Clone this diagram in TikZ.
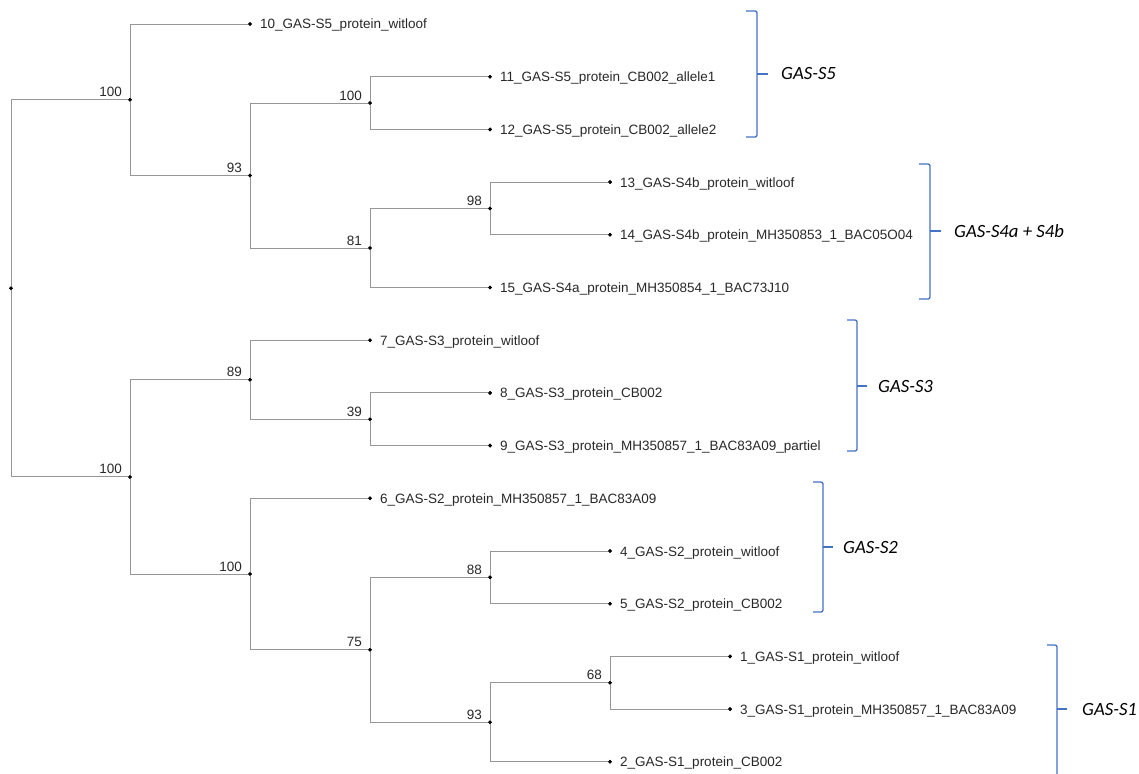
\documentclass[tikz,border=0pt]{standalone}
\usepackage{fontspec}
\setmainfont{Liberation Sans}
\newfontfamily\calfont{Carlito}
\definecolor{cladeblue}{RGB}{68,114,196}
\definecolor{branchgray}{RGB}{150,150,150}
\definecolor{txtgray}{RGB}{40,40,40}
\begin{document}
\begin{tikzpicture}[x=1pt,y=-1pt,
  br/.style={draw=branchgray, line width=0.9pt},
  dot/.style={circle, fill=black, inner sep=0pt, minimum size=3.8pt},
  lf/.style={anchor=base west, inner sep=0pt, font=\fontsize{13.5}{16}\selectfont, text=txtgray},
  bs/.style={anchor=base east, inner sep=0pt, font=\fontsize{13.5}{16}\selectfont, text=txtgray},
  clade/.style={draw=cladeblue, line width=1.3pt, rounded corners=2pt},
  cl/.style={anchor=base west, inner sep=0pt, font=\calfont\itshape\fontsize{18.7}{22}\selectfont, text=black}]
\useasboundingbox (0,0) rectangle (1139,773);

% internal nodes
\node[dot] (r)  at (11,288.3) {};
\node[dot] (a)  at (130,99.8) {};
\node[dot] (b)  at (130,476.9) {};
\node[dot] (a1) at (250,175.5) {};
\node[dot] (a2) at (370,103.05) {};
\node[dot] (a3) at (370,248) {};
\node[dot] (a4) at (490,208.45) {};
\node[dot] (b1) at (250,379.7) {};
\node[dot] (b2) at (370,419.25) {};
\node[dot] (b3) at (250,574.05) {};
\node[dot] (b4) at (370,649.8) {};
\node[dot] (b5) at (490,577.35) {};
\node[dot] (b6) at (490,722.3) {};
\node[dot] (b7) at (610,682.75) {};

% leaves
\node[dot] (l10) at (250,24) {};
\node[dot] (l11) at (490,76.7) {};
\node[dot] (l12) at (490,129.4) {};
\node[dot] (l13) at (610,182.1) {};
\node[dot] (l14) at (610,234.8) {};
\node[dot] (l15) at (490,287.5) {};
\node[dot] (l7)  at (370,340.2) {};
\node[dot] (l8)  at (490,392.9) {};
\node[dot] (l9)  at (490,445.6) {};
\node[dot] (l6)  at (370,498.3) {};
\node[dot] (l4)  at (610,551) {};
\node[dot] (l5)  at (610,603.7) {};
\node[dot] (l1)  at (730,656.4) {};
\node[dot] (l3)  at (730,709.1) {};
\node[dot] (l2)  at (610,761.8) {};

% branches
\draw[br] (r.center) |- (a.center);
\draw[br] (r.center) |- (b.center);
\draw[br] (a.center) |- (l10.center);
\draw[br] (a.center) |- (a1.center);
\draw[br] (a1.center) |- (a2.center);
\draw[br] (a1.center) |- (a3.center);
\draw[br] (a2.center) |- (l11.center);
\draw[br] (a2.center) |- (l12.center);
\draw[br] (a3.center) |- (a4.center);
\draw[br] (a3.center) |- (l15.center);
\draw[br] (a4.center) |- (l13.center);
\draw[br] (a4.center) |- (l14.center);
\draw[br] (b.center) |- (b1.center);
\draw[br] (b.center) |- (b3.center);
\draw[br] (b1.center) |- (l7.center);
\draw[br] (b1.center) |- (b2.center);
\draw[br] (b2.center) |- (l8.center);
\draw[br] (b2.center) |- (l9.center);
\draw[br] (b3.center) |- (l6.center);
\draw[br] (b3.center) |- (b4.center);
\draw[br] (b4.center) |- (b5.center);
\draw[br] (b4.center) |- (b6.center);
\draw[br] (b5.center) |- (l4.center);
\draw[br] (b5.center) |- (l5.center);
\draw[br] (b6.center) |- (b7.center);
\draw[br] (b6.center) |- (l2.center);
\draw[br] (b7.center) |- (l1.center);
\draw[br] (b7.center) |- (l3.center);

% redraw dots on top
\foreach \n in {r,a,b,a1,a2,a3,a4,b1,b2,b3,b4,b5,b6,b7,l10,l11,l12,l13,l14,l15,l7,l8,l9,l6,l4,l5,l1,l3,l2}
  \fill (\n.center) circle (1.9pt);

% bootstrap values
\node[bs] (s_a)  at ([xshift=-8pt,yshift=3pt]a.center)  {100};
\node[bs] (s_b)  at ([xshift=-8pt,yshift=3pt]b.center)  {100};
\node[bs] (s_a1) at ([xshift=-8pt,yshift=3pt]a1.center) {93};
\node[bs] (s_a2) at ([xshift=-8pt,yshift=3pt]a2.center) {100};
\node[bs] (s_a3) at ([xshift=-8pt,yshift=3pt]a3.center) {81};
\node[bs] (s_a4) at ([xshift=-8pt,yshift=3pt]a4.center) {98};
\node[bs] (s_b1) at ([xshift=-8pt,yshift=3pt]b1.center) {89};
\node[bs] (s_b2) at ([xshift=-8pt,yshift=3pt]b2.center) {39};
\node[bs] (s_b3) at ([xshift=-8pt,yshift=3pt]b3.center) {100};
\node[bs] (s_b4) at ([xshift=-8pt,yshift=3pt]b4.center) {75};
\node[bs] (s_b5) at ([xshift=-8pt,yshift=3pt]b5.center) {88};
\node[bs] (s_b6) at ([xshift=-8pt,yshift=3pt]b6.center) {93};
\node[bs] (s_b7) at ([xshift=-8pt,yshift=3pt]b7.center) {68};

% leaf labels
\node[lf] (t10) at ([xshift=10pt,yshift=-5pt]l10.center) {10\_GAS-S5\_protein\_witloof};
\node[lf] (t11) at ([xshift=10pt,yshift=-5pt]l11.center) {11\_GAS-S5\_protein\_CB002\_allele1};
\node[lf] (t12) at ([xshift=10pt,yshift=-5pt]l12.center) {12\_GAS-S5\_protein\_CB002\_allele2};
\node[lf] (t13) at ([xshift=10pt,yshift=-5pt]l13.center) {13\_GAS-S4b\_protein\_witloof};
\node[lf] (t14) at ([xshift=10pt,yshift=-5pt]l14.center) {14\_GAS-S4b\_protein\_MH350853\_1\_BAC05O04};
\node[lf] (t15) at ([xshift=10pt,yshift=-5pt]l15.center) {15\_GAS-S4a\_protein\_MH350854\_1\_BAC73J10};
\node[lf] (t7)  at ([xshift=10pt,yshift=-5pt]l7.center)  {7\_GAS-S3\_protein\_witloof};
\node[lf] (t8)  at ([xshift=10pt,yshift=-5pt]l8.center)  {8\_GAS-S3\_protein\_CB002};
\node[lf] (t9)  at ([xshift=10pt,yshift=-5pt]l9.center)  {9\_GAS-S3\_protein\_MH350857\_1\_BAC83A09\_partiel};
\node[lf] (t6)  at ([xshift=10pt,yshift=-5pt]l6.center)  {6\_GAS-S2\_protein\_MH350857\_1\_BAC83A09};
\node[lf] (t4)  at ([xshift=10pt,yshift=-5pt]l4.center)  {4\_GAS-S2\_protein\_witloof};
\node[lf] (t5)  at ([xshift=10pt,yshift=-5pt]l5.center)  {5\_GAS-S2\_protein\_CB002};
\node[lf] (t1)  at ([xshift=10pt,yshift=-5pt]l1.center)  {1\_GAS-S1\_protein\_witloof};
\node[lf] (t3)  at ([xshift=10pt,yshift=-5pt]l3.center)  {3\_GAS-S1\_protein\_MH350857\_1\_BAC83A09};
\node[lf] (t2)  at ([xshift=10pt,yshift=-5pt]l2.center)  {2\_GAS-S1\_protein\_CB002};

% clade brackets
\draw[clade] (746,11) -- (757,11) -- (757,137) -- (746,137);
\draw[clade] (757,74) -- (768,74);
\node[cl] (g5) at (781,80) {GAS-S5};

\draw[clade] (919,164) -- (930,164) -- (930,299) -- (919,299);
\draw[clade] (930,231) -- (941,231);
\node[cl] (g4) at (954,237) {GAS-S4a + S4b};

\draw[clade] (847,320) -- (857,320) -- (857,451) -- (847,451);
\draw[clade] (857,386) -- (867,386);
\node[cl] (g3) at (878,392) {GAS-S3};

\draw[clade] (813,482) -- (823,482) -- (823,612) -- (813,612);
\draw[clade] (823,547) -- (833,547);
\node[cl] (g2) at (843,553) {GAS-S2};

\draw[clade] (1047,645) -- (1057,645) -- (1057,780);
\draw[clade] (1057,709) -- (1067,709);
\node[cl] (g1) at (1082,715) {GAS-S1};
\end{tikzpicture}
\end{document}
